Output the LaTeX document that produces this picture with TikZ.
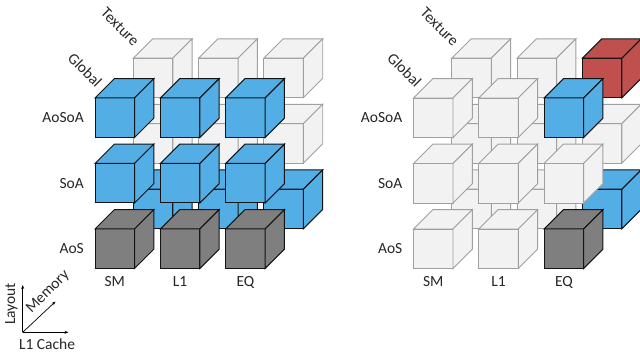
\documentclass[tikz,border=0pt]{standalone}
\usepackage{fontspec}
\setmainfont{Carlito}
\usetikzlibrary{arrows.meta}
\definecolor{cblue}{RGB}{83,174,229}
\definecolor{cdark}{RGB}{127,127,127}
\definecolor{cgray}{RGB}{242,242,242}
\definecolor{cgrayline}{RGB}{160,160,160}
\definecolor{cred}{RGB}{192,80,77}
\definecolor{cline}{RGB}{20,20,20}
\newcommand\cubeS{39.5}
\newcommand\cubeD{19.3}
\newcommand\cubeat[3]{%
  \begin{scope}[shift={(#1,#2)}]
    \filldraw[#3] (0,0) rectangle (\cubeS,\cubeS);
    \filldraw[#3] (0,0) -- ++(\cubeD,-\cubeD) -- ++(\cubeS,0) -- (\cubeS,0) -- cycle;
    \filldraw[#3] (\cubeS,0) -- ++(\cubeD,-\cubeD) -- ++(0,\cubeS) -- (\cubeS,\cubeS) -- cycle;
  \end{scope}}
\newcommand\cuberow[5]{%
  \cubeat{#1}{#2}{#3}\cubeat{#1+65.3}{#2}{#4}\cubeat{#1+130.6}{#2}{#5}}
\tikzset{
  lab/.style={font=\fontsize{15.5}{18}\selectfont, inner sep=0pt, text=black!85},
  gcube/.style={fill=cgray, draw=cgrayline, line width=0.9pt},
  bcube/.style={fill=cblue, draw=cline, line width=1pt},
  dcube/.style={fill=cdark, draw=cline, line width=1pt},
  rcube/.style={fill=cred, draw=cline, line width=1pt},
  axis/.style={line width=0.7pt, -{Stealth[length=4pt,width=3pt]}},
}
\begin{document}
\begin{tikzpicture}[x=1pt,y=-1pt]
\useasboundingbox[fill=white] (0,0) rectangle (640,358);
% ---- left grid: back layer (Texture)
\cuberow{133.3}{58.2}{gcube}{gcube}{gcube}
\cuberow{133.3}{123.7}{gcube}{gcube}{gcube}
\cuberow{133.3}{189.2}{bcube}{bcube}{bcube}
% ---- left grid: front layer (Global)
\cuberow{95}{98}{bcube}{bcube}{bcube}
\cuberow{95}{163.5}{bcube}{bcube}{bcube}
\cuberow{95}{229}{dcube}{dcube}{dcube}
% ---- right grid: back layer
\cuberow{451.8}{58.2}{gcube}{gcube}{rcube}
\cuberow{451.8}{123.7}{gcube}{gcube}{gcube}
\cuberow{451.8}{189.2}{gcube}{gcube}{bcube}
% ---- right grid: front layer
\cuberow{413.5}{98}{gcube}{gcube}{bcube}
\cuberow{413.5}{163.5}{gcube}{gcube}{gcube}
\cuberow{413.5}{229}{gcube}{gcube}{dcube}
% ---- labels left
\node[lab, anchor=east] (laosoa) at (84,118) {AoSoA};
\node[lab, anchor=east] (lsoa) at (84,183.5) {SoA};
\node[lab, anchor=east] (laos) at (84,249) {AoS};
\node[lab] (lsm) at (114.8,282) {SM};
\node[lab] (ll1) at (180.1,282) {L1};
\node[lab] (leq) at (245.4,282) {EQ};
\node[lab, rotate=-45] (lglobal) at (85,70) {Global};
\node[lab, rotate=-45] (ltexture) at (120,27) {Texture};
% ---- labels right
\node[lab, anchor=east] (raosoa) at (402.5,118) {AoSoA};
\node[lab, anchor=east] (rsoa) at (402.5,183.5) {SoA};
\node[lab, anchor=east] (raos) at (402.5,249) {AoS};
\node[lab] (rsm) at (433.3,282) {SM};
\node[lab] (rl1) at (498.6,282) {L1};
\node[lab] (req) at (563.9,282) {EQ};
\node[lab, rotate=-45] (rglobal) at (404.5,70) {Global};
\node[lab, rotate=-45] (rtexture) at (439.5,27) {Texture};
% ---- axes legend
\coordinate (o) at (22.7,332.3);
\coordinate (ay) at (22.7,285);
\coordinate (ax) at (68.5,332.3);
\coordinate (az) at (55.5,301.5);
\draw[axis] (o) -- (ay);
\draw[axis] (o) -- (ax);
\draw[axis] (o) -- (az);
\node[lab, rotate=90] (tlayout) at (11.5,304) {Layout};
\node[lab] (tcache) at (47,344) {L1 Cache};
\node[lab, rotate=45] (tmemory) at (48,292) {Memory};
\end{tikzpicture}
\end{document}
